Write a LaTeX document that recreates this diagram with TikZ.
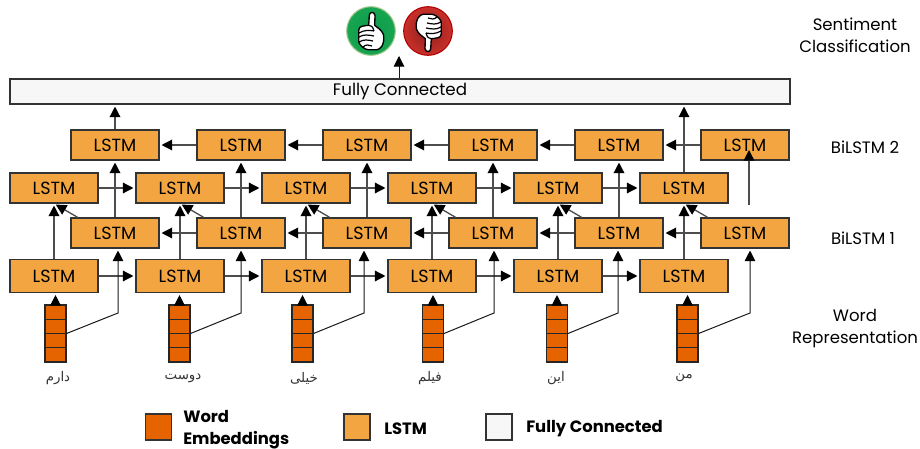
\documentclass[tikz,border=0pt]{standalone}
\usepackage{fontspec}
\setmainfont{Poppins}
\newfontfamily\arabicfont[Script=Arabic]{DejaVu Sans}
\TeXXeTstate=1
\usetikzlibrary{arrows.meta}
\definecolor{lstmfill}{HTML}{F2A541}
\definecolor{embfill}{HTML}{E56400}
\definecolor{fcfill}{HTML}{F7F7F7}
\definecolor{linegray}{HTML}{4D4D4D}
\definecolor{goodin}{HTML}{0C9A48}
\definecolor{goodout}{HTML}{17A552}
\definecolor{goodrim}{HTML}{A5C98F}
\definecolor{badin}{HTML}{8C1F1C}
\definecolor{badout}{HTML}{C9302A}
\tikzstyle{lstm} = [rectangle, minimum width=66pt, minimum height=22.5pt, inner sep=0pt, text centered, draw=black!80, line width=0.8pt, fill=lstmfill, font=\fontsize{13.2}{15}\selectfont]
\tikzstyle{lstmlow} = [lstm, minimum height=24.75pt]
\tikzstyle{embed} = [rectangle, minimum width=15.75pt, minimum height=42.75pt, inner sep=0pt, draw=black!85, line width=0.8pt, fill=embfill, path picture={\draw [black!85, line width=0.8pt] (path picture bounding box.west) -- (path picture bounding box.east) ([yshift=10.7pt]path picture bounding box.west) -- ([yshift=10.7pt]path picture bounding box.east) ([yshift=-10.7pt]path picture bounding box.west) -- ([yshift=-10.7pt]path picture bounding box.east);}]
\tikzstyle{fcbox} = [rectangle, minimum width=585pt, minimum height=18.75pt, inner sep=0pt, text centered, draw=black!80, line width=0.8pt, fill=fcfill, font=\fontsize{12.5}{15}\selectfont]
\tikzstyle{word} = [font=\arabicfont\fontsize{10}{12}\selectfont, text=black!80]
\tikzstyle{side} = [align=center, font=\fontsize{12.4}{16.5}\selectfont]
\tikzstyle{legbox} = [rectangle, minimum width=19.5pt, minimum height=19.5pt, inner sep=0pt, draw=black!80, line width=0.8pt]
\tikzstyle{legtext} = [anchor=west, align=left, inner sep=0pt, font=\fontsize{12.3}{16.5}\selectfont\bfseries]
\tikzstyle{arrow} = [draw=linegray, line width=1pt, -{Triangle[width=8pt,length=8pt,black]}, shorten >=1.5pt]
\tikzstyle{thin arrow} = [draw=black!90, line width=0.75pt, -{Triangle[width=8pt,length=8pt,black]}]
\newcommand{\thumbhand}{
  \filldraw [fill=white, draw=black, line width=1pt, line join=round] (-2.3,-5.7) -- (-1.7,-15.7) .. controls (-1.5,-19.5) and (3.5,-19.5) .. (4,-15.7) -- (3.7,-5.7) .. controls (7,-3) and (10,-1) .. (11,1) .. controls (13.5,3) and (13,10) .. (12,12.7) .. controls (11,16) and (8,18.5) .. (6,18.7) -- (-3,18.7) .. controls (-6,18.5) and (-11,15) .. (-12.3,11) -- (-12.3,-0.7) .. controls (-12,-3) and (-11,-4.5) .. (-9,-4.7) .. controls (-6,-5.5) and (-4,-5.5) .. (-2.3,-5.7) -- cycle;
  \draw [black, line width=0.9pt] (-12,2) .. controls (-7,-1) and (-2,-1) .. (3,0) (-12,6) .. controls (-7,3) and (-3,4) .. (3,5) (-12,11) .. controls (-7,8) and (-3,9) .. (2,10) (-8,16) .. controls (-5,13) and (-2,14) .. (1,15) (3,0) .. controls (3,-3) and (1,-5) .. (-2.3,-5.7);
}

\begin{document}
\begin{tikzpicture}[x=0.75pt, y=-0.75pt, node distance=94.5pt]
\useasboundingbox (0,0) rectangle (920,449);
% top
\node (good) [circle, minimum size=36.5pt, inner sep=0pt, draw=goodrim, line width=0.8pt, inner color=goodin, outer color=goodout] at (371,31) {};
\node (bad) [circle, minimum size=36.5pt, inner sep=0pt, draw=red!70!black, line width=0.8pt, inner color=badin, outer color=badout] at (428,31) {};
\begin{scope}[shift={(371,31)}]
\thumbhand
\end{scope}
\begin{scope}[shift={(429,33)}, rotate=180]
\thumbhand
\end{scope}
\node (fc) [fcbox] at (400,91.5) {Fully Connected};
% second layer, backward
\node (h1) [lstm] at (115,145) {LSTM};
\node (h2) [lstm, right of=h1] {LSTM};
\node (h3) [lstm, right of=h2] {LSTM};
\node (h4) [lstm, right of=h3] {LSTM};
\node (h5) [lstm, right of=h4] {LSTM};
\node (h6) [lstm, right of=h5] {LSTM};
% second layer, forward
\node (g1) [lstm] at (54,188) {LSTM};
\node (g2) [lstm, right of=g1] {LSTM};
\node (g3) [lstm, right of=g2] {LSTM};
\node (g4) [lstm, right of=g3] {LSTM};
\node (g5) [lstm, right of=g4] {LSTM};
\node (g6) [lstm, right of=g5] {LSTM};
% first layer, backward
\node (b1) [lstm] at (115,233) {LSTM};
\node (b2) [lstm, right of=b1] {LSTM};
\node (b3) [lstm, right of=b2] {LSTM};
\node (b4) [lstm, right of=b3] {LSTM};
\node (b5) [lstm, right of=b4] {LSTM};
\node (b6) [lstm, right of=b5] {LSTM};
% first layer, forward
\node (f1) [lstmlow] at (54,276) {LSTM};
\node (f2) [lstmlow, right of=f1] {LSTM};
\node (f3) [lstmlow, right of=f2] {LSTM};
\node (f4) [lstmlow, right of=f3] {LSTM};
\node (f5) [lstmlow, right of=f4] {LSTM};
\node (f6) [lstmlow, right of=f5] {LSTM};
% embeddings
\node (emb1) [embed] at (55.5,333.5) {};
\node (emb2) [embed] at (179.5,333.5) {};
\node (emb3) [embed] at (302.5,333.5) {};
\node (emb4) [embed] at (433,333.5) {};
\node (emb5) [embed] at (557,333.5) {};
\node (emb6) [embed] at (687.5,333.5) {};
\coordinate (k1) at (118,313);
\coordinate (k2) at (241,313);
\coordinate (k3) at (364,313);
\coordinate (k4) at (494,313);
\coordinate (k5) at (618,313);
\coordinate (k6) at (750,313);
\node (wrd1) [word] at (58,378) {\beginR دارم\endR};
\node (wrd2) [word] at (183,378) {\beginR دوست\endR};
\node (wrd3) [word] at (304,378) {\beginR خیلی\endR};
\node (wrd4) [word] at (430,378) {\beginR فیلم\endR};
\node (wrd5) [word] at (556,378) {\beginR این\endR};
\node (wrd6) [word] at (684,378) {\beginR من\endR};
% right column
\node (sent) [side] at (855,35.5) {Sentiment\\Classification};
\node (bi2) [side] at (865,147) {BiLSTM 2};
\node (bi1) [side] at (863,238) {BiLSTM 1};
\node (rep) [side] at (855,329) {Word\\Representation};
% legend
\node (leg1) [legbox, fill=embfill] at (158.5,427) {};
\node (leg2) [legbox, fill=lstmfill] at (357,427) {};
\node (leg3) [legbox, fill=fcfill] at (499,427) {};
\node (legt1) [legtext] at (183,430) {Word\\Embeddings};
\node (legt2) [legtext] at (384,429) {LSTM};
\node (legt3) [legtext] at (526,429) {Fully Connected};
% forward arrows
\draw [arrow] (f1) -- (f2);
\draw [arrow] (f2) -- (f3);
\draw [arrow] (f3) -- (f4);
\draw [arrow] (f4) -- (f5);
\draw [arrow] (f5) -- (f6);
\draw [arrow] (g1) -- (g2);
\draw [arrow] (g2) -- (g3);
\draw [arrow] (g3) -- (g4);
\draw [arrow] (g4) -- (g5);
\draw [arrow] (g5) -- (g6);
% backward arrows
\draw [arrow] (b6) -- (b5);
\draw [arrow] (b5) -- (b4);
\draw [arrow] (b4) -- (b3);
\draw [arrow] (b3) -- (b2);
\draw [arrow] (b2) -- (b1);
\draw [arrow] (h6) -- (h5);
\draw [arrow] (h5) -- (h4);
\draw [arrow] (h4) -- (h3);
\draw [arrow] (h3) -- (h2);
\draw [arrow] (h2) -- (h1);
% up to second layer
\draw [arrow] (f1.north) -- (g1.south);
\draw [arrow] (f2.north) -- (g2.south);
\draw [arrow] (f3.north) -- (g3.south);
\draw [arrow] (f4.north) -- (g4.south);
\draw [arrow] (f5.north) -- (g5.south);
\draw [arrow] (f6.north) -- (g6.south);
\draw [arrow] ([xshift=5.5pt]b1.north west) -- (g1.south);
\draw [arrow] ([xshift=5.5pt]b2.north west) -- (g2.south);
\draw [arrow] ([xshift=5.5pt]b3.north west) -- (g3.south);
\draw [arrow] ([xshift=5.5pt]b4.north west) -- (g4.south);
\draw [arrow] ([xshift=5.5pt]b5.north west) -- (g5.south);
\draw [arrow] ([xshift=5.5pt]b6.north west) -- (g6.south);
\draw [arrow] (b1.north) -- (h1.south);
\draw [arrow] (b2.north) -- (h2.south);
\draw [arrow] (b3.north) -- (h3.south);
\draw [arrow] (b4.north) -- (h4.south);
\draw [arrow] (b5.north) -- (h5.south);
\coordinate (last) at (749,205);
\coordinate (lastend) at (749,150);
\draw [arrow, shorten >=0pt] (last) -- (lastend);
% up to fully connected
\draw [arrow] (h1.north) -- (h1.north |- fc.south);
\draw [arrow] (g6.north) -- (g6.north |- fc.south);
\coordinate (fctop) at (399,56);
\draw [thin arrow] (fc.north -| fctop) -- (fctop);
% embeddings
\draw [thin arrow, shorten >=1.5pt] (emb1.north) -- (emb1.north |- f1.south);
\draw [thin arrow, shorten >=1.5pt] (emb2.north) -- (emb2.north |- f2.south);
\draw [thin arrow, shorten >=1.5pt] (emb3.north) -- (emb3.north |- f3.south);
\draw [thin arrow, shorten >=1.5pt] (emb4.north) -- (emb4.north |- f4.south);
\draw [thin arrow, shorten >=1.5pt] (emb5.north) -- (emb5.north |- f5.south);
\draw [thin arrow, shorten >=1.5pt] (emb6.north) -- (emb6.north |- f6.south);
\draw [thin arrow, shorten >=1.5pt] (emb1.east) -- (k1) -- (k1 |- b1.south);
\draw [thin arrow, shorten >=1.5pt] (emb2.east) -- (k2) -- (k2 |- b2.south);
\draw [thin arrow, shorten >=1.5pt] (emb3.east) -- (k3) -- (k3 |- b3.south);
\draw [thin arrow, shorten >=1.5pt] (emb4.east) -- (k4) -- (k4 |- b4.south);
\draw [thin arrow, shorten >=1.5pt] (emb5.east) -- (k5) -- (k5 |- b5.south);
\draw [thin arrow, shorten >=1.5pt] (emb6.east) -- (k6) -- (k6 |- b6.south);
\end{tikzpicture}
\end{document}
